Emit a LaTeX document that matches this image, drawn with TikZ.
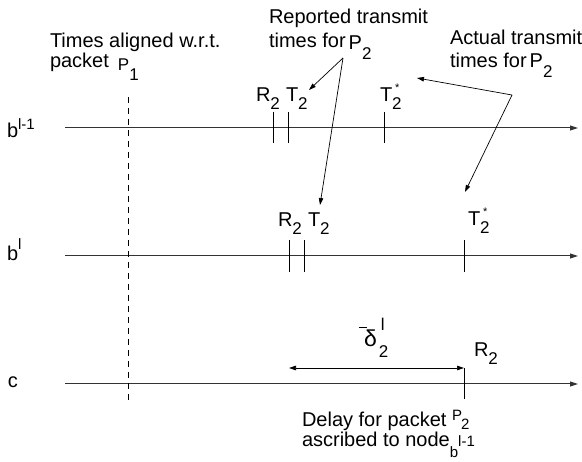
\documentclass[tikz,border=0pt]{standalone}
\usepackage{fontspec}
\setmainfont{Liberation Sans}
\usetikzlibrary{arrows.meta}
\newcommand\subsz{\fontsize{17}{17}\selectfont}
\newcommand\supsz{\fontsize{15}{15}\selectfont}
\newcommand\lowsub[2]{#1\raisebox{-8pt}{\subsz #2}}
\newcommand\tstar{T\rlap{\raisebox{10pt}{\kern3pt\fontsize{11}{11}\selectfont *}}\raisebox{-8pt}{\subsz 2}}
\begin{document}
\begin{tikzpicture}[x=1pt,y=-1pt,
  txt/.style={anchor=base west,inner sep=0pt,outer sep=0pt,font=\fontsize{20}{23}\selectfont},
  axis/.style={line width=1pt,black!80,-{Triangle[length=8pt,width=5pt]}},
  tickmark/.style={line width=0.9pt},
  ptr/.style={line width=0.7pt,-{Triangle[length=7pt,width=4.5pt]}},
  dbl/.style={line width=0.7pt,{Triangle[length=7pt,width=4.5pt]}-{Triangle[length=7pt,width=4.5pt]}},
  ]
\useasboundingbox (0,0) rectangle (582,462);

% axes
\coordinate (a1s) at (65,128); \coordinate (a1e) at (578,128);
\coordinate (a2s) at (65,256); \coordinate (a2e) at (578,256);
\coordinate (a3s) at (65,384); \coordinate (a3e) at (578,384);
\draw[axis] (a1s) -- (a1e);
\draw[axis] (a2s) -- (a2e);
\draw[axis] (a3s) -- (a3e);

% dashed alignment line
\coordinate (dsA) at (128,97); \coordinate (dsB) at (128,400);
\draw[line width=0.9pt,dash pattern=on 6pt off 5pt] (dsA) -- (dsB);

% ticks
\draw[tickmark] (273,112) -- (273,143);
\draw[tickmark] (288,112) -- (288,143);
\draw[tickmark] (384,112) -- (384,143);
\draw[tickmark] (289,240) -- (289,272);
\draw[tickmark] (304,240) -- (304,272);
\draw[tickmark] (464,240) -- (464,272);
\draw[tickmark] (464,368) -- (464,399);

% axis labels
\node[txt] (bl1) at (7,138) {b\raisebox{8pt}{\supsz l-1}};
\node[txt] (bl) at (7,261) {b\raisebox{11pt}{\supsz l}};
\node[txt] (cc) at (8,388) {c};

% tick labels
\node[txt] (R1) at (256,102) {\lowsub{R}{2}};
\node[txt] (T1) at (286,102) {\lowsub{T}{2}};
\node[txt] (Ts1) at (380,102) {\tstar};
\node[txt] (R2) at (278,227) {\lowsub{R}{2}};
\node[txt] (T2) at (308,227) {\lowsub{T}{2}};
\node[txt] (Ts2) at (468,226) {\tstar};
\node[txt] (R3) at (474,357) {\lowsub{R}{2}};

% delay label
\node[txt] (dl) at (364,347) {\llap{\raisebox{19pt}{\rule{8pt}{0.8pt}}\kern-3pt}{\fontsize{23}{23}\selectfont δ}\rlap{\kern4pt\raisebox{16pt}{\subsz l}}\kern2pt\raisebox{-11pt}{\subsz 2}};
\coordinate (d1) at (289,368); \coordinate (d2) at (464,368);
\draw[dbl] (d1) -- (d2);

% texts
\node[txt] (t1a) at (50,48) {Times aligned w.r.t.};
\node[txt] (t1b) at (50,68) {packet\hspace{9pt}\raisebox{-3pt}{\subsz P}\raisebox{-13pt}{\subsz 1}};
\node[txt] (t2a) at (269,24) {Reported transmit};
\node[txt] (t2b) at (269,48) {times for\kern3pt\raisebox{-2pt}{P}\raisebox{-12pt}{\subsz 2}};
\node[txt] (t3a) at (450,45) {Actual transmit};
\node[txt] (t3b) at (450,68) {times for\kern3pt P\raisebox{-10pt}{\subsz 2}};
\node[txt] (t4a) at (302,427) {Delay for packet \raisebox{6pt}{\supsz P}\kern-1pt\raisebox{-3pt}{\supsz 2}};
\node[txt] (t4b) at (302,447) {ascribed to node\raisebox{-11pt}{\supsz b}{\supsz l-1}};

% pointer arrows
\coordinate (rp) at (343,58); \coordinate (rt1) at (309,90); \coordinate (rt2) at (320,205);
\draw[ptr] (rp) -- (rt1);
\draw[ptr] (rp) -- (rt2);
\coordinate (ap) at (512,95); \coordinate (at1) at (417,78); \coordinate (at2) at (465,192);
\draw[ptr] (ap) -- (at1);
\draw[ptr] (ap) -- (at2);
\end{tikzpicture}
\end{document}
